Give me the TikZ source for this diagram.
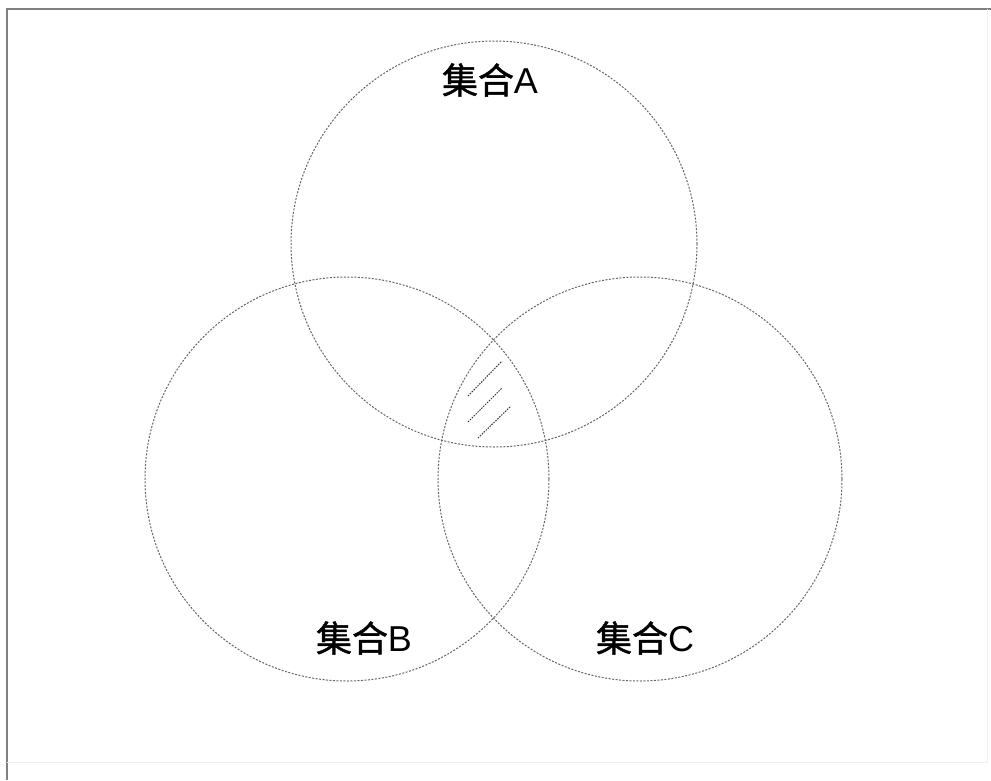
\documentclass[tikz,border=0pt]{standalone}
\usepackage{fontspec}
\newfontfamily\cjk[UprightFeatures={FakeBold=1.2}]{Noto Sans CJK SC}
\newfontfamily\latn{Liberation Sans}
\begin{document}
\begin{tikzpicture}[x=1pt,y=-1pt,
  setcircle/.style={draw=black!60,line width=1pt,dash pattern=on 2pt off 1.5pt},
  hatch/.style={draw=black!80,line width=1pt,dash pattern=on 1.5pt off 1.2pt},
  lbl/.style={font=\cjk\fontsize{36}{36}\selectfont,inner sep=0pt}]
\useasboundingbox (0,0) rectangle (991,780);
\fill[white] (0,0) rectangle (991,780);
\draw[black!50,line width=2pt] (7,780) -- (7,9) -- (991,9);
\draw[black!6,line width=1pt] (987,9) -- (987,762) -- (7,762);
\node[setcircle,circle,minimum size=406pt,inner sep=0pt] (A) at (494,244) {};
\node[setcircle,circle,minimum size=404pt,inner sep=0pt] (B) at (347,479) {};
\node[setcircle,circle,minimum size=404pt,inner sep=0pt] (C) at (640,479) {};
\draw[hatch] (468,396) -- (502,361);
\draw[hatch] (468,422) -- (502,388);
\draw[hatch] (478,438) -- (511,406);
\node[lbl] (la) at (490,80) {集合{\latn A}};
\node[lbl] (lb) at (364,638) {集合{\latn B}};
\node[lbl] (lc) at (645,638) {集合{\latn C}};
\end{tikzpicture}
\end{document}
